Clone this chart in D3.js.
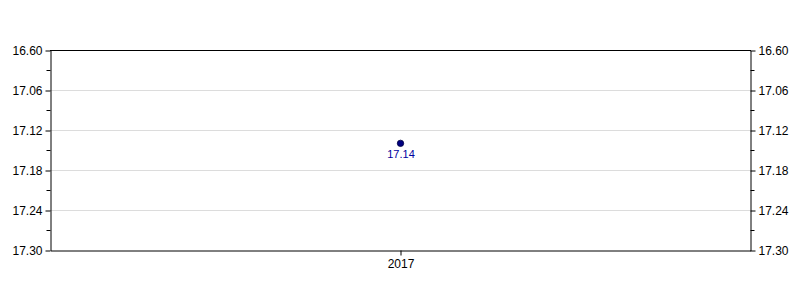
<!DOCTYPE html>
<html><head><meta charset="utf-8">
<script src="https://cdn.jsdelivr.net/npm/d3@7"></script>
<style>body{margin:0;background:#fff}svg{display:block}text{font-family:"Liberation Sans",Arial,sans-serif}</style>
</head><body><svg id="c" width="800" height="300"></svg>
<script>
const categories = ["2017"];
const values = [17.14];
const tickValues = [17.00, 17.06, 17.12, 17.18, 17.24, 17.30];
const tickLabels = ["16.60", "17.06", "17.12", "17.18", "17.24", "17.30"];
const minorTicks = [17.03, 17.09, 17.15, 17.21, 17.27];

const W = 800, H = 300, m = {l: 50, r: 50, t: 50, b: 50};
const svg = d3.select("#c");
const x = d3.scalePoint().domain(categories).range([m.l, W - m.r]).padding(0.5);
const y = d3.scaleLinear().domain([17.00, 17.30]).range([m.t, H - m.b]);

// gridlines
svg.append("g").selectAll("line").data(tickValues.slice(1, -1)).join("line")
  .attr("x1", m.l).attr("x2", W - m.r)
  .attr("y1", d => Math.round(y(d)) + 0.5).attr("y2", d => Math.round(y(d)) + 0.5)
  .attr("stroke", "#dcdcdc").attr("stroke-width", 1);

const fmt = d => tickLabels[tickValues.indexOf(d)];
function styleAxis(g) {
  g.selectAll("text").attr("font-size", 12).attr("fill", "#000");
  g.selectAll("path,line").attr("stroke", "#000");
}
const left = svg.append("g").attr("transform", `translate(${m.l + 0.5},0.5)`)
  .call(d3.axisLeft(y).tickValues(tickValues).tickFormat(fmt).tickSize(5).tickPadding(3).tickSizeOuter(0));
styleAxis(left);
const right = svg.append("g").attr("transform", `translate(${W - m.r + 0.5},0.5)`)
  .call(d3.axisRight(y).tickValues(tickValues).tickFormat(fmt).tickSize(5).tickPadding(3).tickSizeOuter(0));
styleAxis(right);
// minor ticks
[[left, -4], [right, 4]].forEach(([g, s]) => {
  g.append("g").selectAll("line").data(minorTicks).join("line")
    .attr("x1", 0).attr("x2", s).attr("y1", d => Math.round(y(d))).attr("y2", d => Math.round(y(d)))
    .attr("stroke", "#000");
});
const bottom = svg.append("g").attr("transform", `translate(0.5,${H - m.b + 0.5})`)
  .call(d3.axisBottom(x).tickSize(5).tickPadding(4).tickSizeOuter(0));
styleAxis(bottom);
// top border
svg.append("line").attr("x1", m.l).attr("x2", W - m.r + 1).attr("y1", m.t + 0.5).attr("y2", m.t + 0.5).attr("stroke", "#000");

// point + label
svg.append("g").selectAll("circle").data(values).join("circle")
  .attr("cx", (d, i) => x(categories[i]) + 0.5).attr("cy", d => y(d))
  .attr("r", 3.2).attr("fill", "#000080").attr("stroke", "#000040").attr("stroke-width", 0.8);
svg.append("g").selectAll("text").data(values).join("text")
  .attr("x", (d, i) => x(categories[i]) + 1).attr("y", d => y(d) + 14.5)
  .attr("text-anchor", "middle").attr("font-size", 11).attr("fill", "#0000a0")
  .text(d => d.toFixed(2));
</script></body></html>
